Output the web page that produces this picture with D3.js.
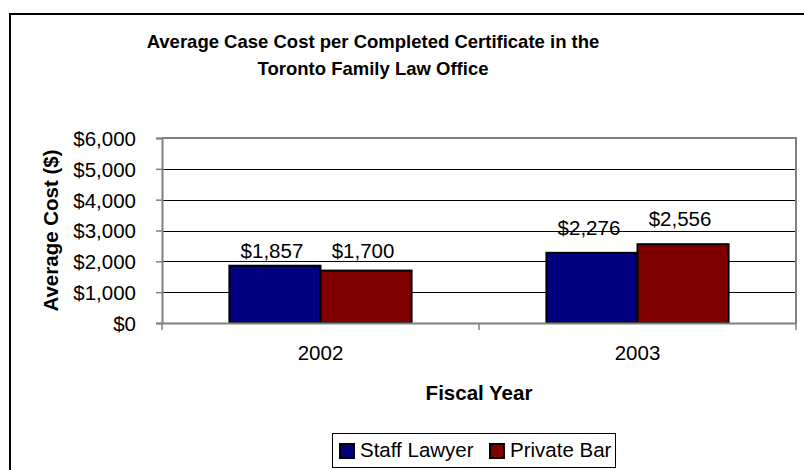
<!DOCTYPE html>
<html>
<head>
<meta charset="utf-8">
<script src="https://cdn.jsdelivr.net/npm/d3@7"></script>
<style>
  body { margin: 0; background: #fff; }
  svg { display: block; font-family: "Liberation Sans", Arial, sans-serif; }
</style>
</head>
<body>
<div id="chart"></div>
<script>
// Chart data
const years = ["2002", "2003"];
const seriesNames = ["Staff Lawyer", "Private Bar"];
const staffLawyer = [1857, 2276];
const privateBar = [1700, 2556];
const yTicks = [0, 1000, 2000, 3000, 4000, 5000, 6000];
const colors = ["#000080", "#800000"];

// label lift above bar top (px), as placed in the original
const labelLift = [[8, 18], [13, 18]];

const W = 804, H = 470;
const plot = { left: 162, right: 796, top: 138, bottom: 323 };

const svg = d3.select("#chart").append("svg")
    .attr("width", W)
    .attr("height", H);

svg.append("rect")
    .attr("width", W).attr("height", H)
    .attr("fill", "#fff");

// outer chart border
svg.append("rect")
    .attr("x", 10).attr("y", 14)
    .attr("width", W).attr("height", H)
    .attr("fill", "none")
    .attr("stroke", "#000")
    .attr("stroke-width", 2);

// Title
const title = svg.append("text")
    .attr("text-anchor", "middle")
    .style("font-weight", "bold")
    .style("font-size", "18.5px");
title.append("tspan").attr("x", 373).attr("y", 48)
    .text("Average Case Cost per Completed Certificate in the");
title.append("tspan").attr("x", 373).attr("y", 75)
    .text("Toronto Family Law Office");

// Scales
const y = d3.scaleLinear()
    .domain([0, 6000])
    .range([plot.bottom, plot.top]);

const x0 = d3.scaleBand()
    .domain(years)
    .range([plot.left, plot.right])
    .padding(0);

const x1 = d3.scaleBand()
    .domain(seriesNames)
    .range([0, x0.bandwidth()])
    .paddingInner(0)
    .paddingOuter(0.74);

// Gridlines
svg.append("g")
    .selectAll("line")
    .data(yTicks.slice(1, -1))
    .enter()
    .append("line")
    .attr("x1", plot.left).attr("x2", plot.right)
    .attr("y1", d => Math.round(y(d)) + 0.5)
    .attr("y2", d => Math.round(y(d)) + 0.5)
    .attr("stroke", "#000")
    .attr("stroke-width", 1);

// Plot top and right borders
svg.append("path")
    .attr("d", `M${plot.left},${plot.top}H${plot.right}V${plot.bottom}`)
    .attr("fill", "none")
    .attr("stroke", "#808080")
    .attr("stroke-width", 2);

// Bars
const values = [staffLawyer, privateBar];
const barData = [];
years.forEach((yr, i) => {
    seriesNames.forEach((s, j) => {
        barData.push({ year: yr, series: s, value: values[j][i], si: j, yi: i });
    });
});

svg.append("g")
    .selectAll("rect")
    .data(barData)
    .enter()
    .append("rect")
    .attr("x", d => x0(d.year) + x1(d.series))
    .attr("y", d => y(d.value))
    .attr("width", x1.bandwidth())
    .attr("height", d => y(0) - y(d.value))
    .attr("fill", d => colors[d.si])
    .attr("stroke", "#000")
    .attr("stroke-width", 2);

// Data labels
svg.append("g")
    .selectAll("text")
    .data(barData)
    .enter()
    .append("text")
    .attr("x", d => x0(d.year) + x1(d.series) + x1.bandwidth() / 2 - 3)
    .attr("y", d => y(d.value) - labelLift[d.si][d.yi])
    .attr("text-anchor", "middle")
    .style("font-size", "20.5px")
    .text(d => "$" + d3.format(",")(d.value));

// Y axis
const yAxis = d3.axisLeft(y)
    .tickValues(yTicks)
    .tickSize(6)
    .tickPadding(20)
    .tickFormat(d => "$" + d3.format(",")(d));

const yAxisG = svg.append("g")
    .attr("transform", `translate(${plot.left},0)`)
    .call(yAxis);
yAxisG.select(".domain").attr("stroke", "#808080").attr("stroke-width", 2);
yAxisG.selectAll(".tick line").attr("stroke", "#808080").attr("stroke-width", 1.5);
yAxisG.selectAll(".tick text")
    .style("font-size", "20.5px")
    .style("font-family", "'Liberation Sans', Arial, sans-serif")
    .attr("fill", "#000")
    .attr("dy", "0.36em");

// X axis
const xAxis = d3.axisBottom(x0)
    .tickSize(0)
    .tickPadding(22);

const xAxisG = svg.append("g")
    .attr("transform", `translate(0,${plot.bottom})`)
    .call(xAxis);
xAxisG.select(".domain").attr("stroke", "#808080").attr("stroke-width", 2);
xAxisG.selectAll(".tick text")
    .style("font-size", "20.5px")
    .style("font-family", "'Liberation Sans', Arial, sans-serif")
    .attr("fill", "#000");

// category boundary ticks
svg.append("g")
    .selectAll("line")
    .data(years.concat(["end"]))
    .enter()
    .append("line")
    .attr("x1", (d, i) => i < years.length ? x0(d) : plot.right)
    .attr("x2", (d, i) => i < years.length ? x0(d) : plot.right)
    .attr("y1", plot.bottom)
    .attr("y2", plot.bottom + 7)
    .attr("stroke", "#808080")
    .attr("stroke-width", 1.5);

// Axis titles
svg.append("text")
    .attr("transform", `translate(58,${(plot.top + plot.bottom) / 2}) rotate(-90)`)
    .attr("text-anchor", "middle")
    .style("font-weight", "bold")
    .style("font-size", "20.5px")
    .text("Average Cost ($)");

svg.append("text")
    .attr("x", (plot.left + plot.right) / 2)
    .attr("y", 400)
    .attr("text-anchor", "middle")
    .style("font-weight", "bold")
    .style("font-size", "20.5px")
    .text("Fiscal Year");

// Legend
const legend = svg.append("g");
legend.append("rect")
    .attr("x", 332.5).attr("y", 433.5)
    .attr("width", 283).attr("height", 34)
    .attr("fill", "#fff")
    .attr("stroke", "#000")
    .attr("stroke-width", 1);

const legendX = [340, 490];
const items = legend.selectAll(".legend-item")
    .data(seriesNames)
    .enter()
    .append("g")
    .attr("class", "legend-item")
    .attr("transform", (d, i) => `translate(${legendX[i]},0)`);

items.append("rect")
    .attr("x", 0).attr("y", 444)
    .attr("width", 14).attr("height", 14)
    .attr("fill", (d, i) => colors[i])
    .attr("stroke", "#000")
    .attr("stroke-width", 2);

items.append("text")
    .attr("x", 20).attr("y", 457)
    .style("font-size", "20.5px")
    .text(d => d);
</script>
</body>
</html>
